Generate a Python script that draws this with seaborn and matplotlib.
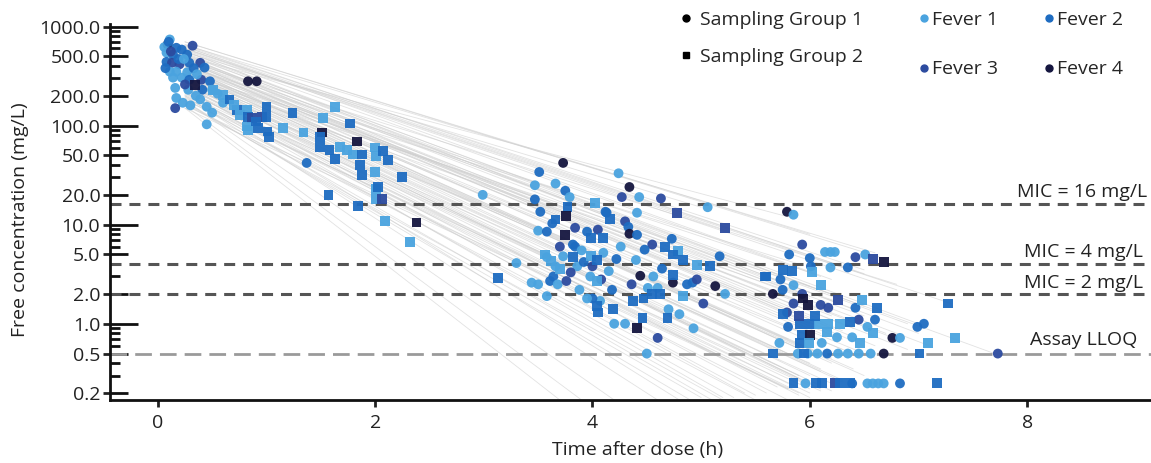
import numpy as np
import pandas as pd
import seaborn as sns
import matplotlib.pyplot as plt
from matplotlib.lines import Line2D
from matplotlib.ticker import FixedLocator, FixedFormatter, NullFormatter

sns.set_style('white')
plt.rcParams['font.family'] = ['Open Sans', 'DejaVu Sans']

# ---- data ----
# sampling group 1 (circles): time (h), free conc (mg/L), fever episode
g1_time = [0.09, 0.11, 0.32, 0.17, 0.22, 0.08, 0.14, 0.27, 0.08, 0.13, 0.20, 0.29, 0.39, 0.43, 0.11, 0.17,
           0.27, 0.14, 0.22, 0.29, 0.40, 0.48, 0.16, 0.28, 0.41, 0.50, 0.17, 0.23, 0.16, 0.39, 0.45, 0.50,
           0.45, 0.83, 0.91, 1.37, 0.06, 0.10, 0.12, 0.19, 0.24, 0.33, 0.36, 0.07, 0.25, 0.35, 0.55, 0.60,
           0.30,
           2.99, 3.73, 3.51, 3.47, 3.66, 3.75, 3.79, 3.47, 3.52, 3.63, 3.50, 3.58, 3.84, 3.70, 3.82, 3.58,
           3.73, 3.30, 3.66, 3.86, 3.44, 3.50, 3.61, 3.64, 3.68, 3.76, 3.58, 4.07, 4.00, 3.95, 4.05, 4.13,
           3.84, 4.00, 3.98, 3.95, 4.24, 4.34, 4.27, 4.43, 4.63, 5.06, 4.41, 4.12, 4.30, 4.33, 4.34, 4.41,
           4.55, 4.73, 5.17, 4.64, 4.56, 4.44, 4.36, 4.51, 4.60, 4.74, 4.87, 4.92, 4.96, 5.13, 5.22, 5.02,
           4.70, 4.80, 4.20, 4.30, 4.93, 4.60, 4.50, 3.90, 3.92, 4.10, 4.15, 4.18, 4.08, 4.22, 3.88, 4.26,
           3.80, 4.40, 4.48,
           5.79, 5.85, 5.93, 5.81, 6.00, 6.14, 6.19, 6.23, 6.42, 6.51, 6.35, 6.19, 6.01, 5.73, 5.85, 5.66,
           5.75, 5.93, 5.85, 6.10, 6.17, 6.42, 5.79, 6.45, 6.53, 6.60, 6.99, 7.05, 5.80, 6.25, 6.39, 6.76,
           6.83, 5.72, 6.11, 5.89, 5.98, 6.07, 6.16, 6.26, 6.35, 6.45, 6.56, 6.68, 7.73,
           5.96, 6.39, 6.53, 6.58, 6.63, 6.68, 6.83]
g1_conc = [658, 740, 640, 610, 585, 545, 520, 520, 440, 430, 415, 430, 430, 385, 350, 350,
           345, 305, 305, 290, 290, 280, 240, 230, 230, 230, 190, 170, 150, 184, 155, 135,
           103, 280, 280, 42, 620, 700, 560, 470, 470, 380, 330, 380, 260, 200, 210, 170,
           160,
           20, 42, 34, 25, 26, 22, 19, 18, 13.5, 10.3, 8.7, 8.5, 9.3, 6.0, 6.3, 4.7,
           4.8, 4.1, 3.8, 3.8, 2.6, 2.5, 2.7, 3.0, 2.5, 2.7, 1.9, 1.7, 1.8, 8.5, 8.9, 13.2,
           6.0, 3.8, 3.0, 1.8, 33, 24, 19, 19, 18.4, 15, 13.2, 13.5, 10.8, 9.5, 8.1, 7.9,
           6.3, 7.2, 4.8, 3.6, 3.0, 3.05, 2.5, 2.3, 2.3, 2.6, 2.5, 2.6, 2.8, 2.4, 2.0, 1.6,
           1.4, 1.25, 1.0, 1.0, 0.9, 0.72, 0.5, 5.5, 4.2, 5.2, 3.4, 2.2, 2.8, 4.5, 2.2, 6.0,
           3.3, 4.4, 5.6,
           13.5, 12.6, 6.3, 5.0, 4.6, 5.3, 5.3, 5.3, 4.7, 5.0, 3.7, 3.7, 3.8, 2.8, 2.45, 2.0,
           2.2, 2.0, 1.6, 1.55, 1.45, 1.45, 1.3, 1.1, 0.93, 1.1, 0.93, 1.0, 0.93, 0.73, 0.73, 0.72,
           0.72, 0.64, 0.64, 0.5, 0.5, 0.5, 0.5, 0.5, 0.5, 0.5, 0.5, 0.5, 0.5,
           0.25, 0.25, 0.25, 0.25, 0.25, 0.25, 0.25]
g1_fever = [4, 1, 3, 2, 2, 1, 2, 2, 2, 3, 3, 2, 3, 2, 1, 1,
            1, 1, 1, 2, 3, 2, 1, 1, 2, 1, 1, 1, 3, 1, 1, 1,
            1, 4, 4, 2, 1, 2, 3, 2, 1, 2, 1, 2, 3, 1, 1, 1,
            1,
            1, 4, 2, 1, 1, 2, 1, 2, 2, 2, 1, 2, 3, 3, 2, 1,
            1, 1, 1, 1, 1, 1, 2, 2, 1, 3, 1, 1, 2, 2, 3, 2,
            2, 3, 1, 1, 1, 4, 3, 1, 3, 1, 1, 2, 3, 2, 4, 2,
            3, 2, 2, 2, 1, 4, 3, 1, 1, 4, 2, 2, 3, 4, 1, 3,
            1, 1, 1, 1, 1, 3, 1, 1, 2, 1, 1, 2, 3, 2, 1, 1,
            3, 1, 2,
            4, 1, 3, 2, 2, 1, 1, 1, 3, 1, 2, 1, 2, 2, 1, 4,
            2, 3, 3, 3, 3, 2, 3, 3, 1, 2, 2, 2, 2, 1, 1, 4,
            1, 1, 1, 1, 1, 1, 2, 1, 1, 1, 1, 4, 3,
            1, 2, 1, 1, 1, 1, 2]

# sampling group 2 (squares)
g2_time = [0.34, 0.51, 0.60, 0.66, 0.73, 0.82, 0.76, 0.83, 0.87, 0.96, 1.00, 1.00, 0.82, 0.83, 0.92, 1.01,
           1.02, 1.15, 1.24, 1.34, 1.51, 1.49, 1.63, 1.52, 1.77, 1.83, 1.49, 1.58, 1.68, 1.63, 1.74, 1.80,
           1.88, 1.86, 1.88, 1.57, 1.84, 2.00, 2.01, 2.07, 2.12, 2.00, 2.01, 2.03, 2.01, 2.06, 2.09, 2.25,
           2.38, 2.32, 0.70, 0.90,
           3.13, 3.77, 3.76, 3.66, 3.75, 3.56, 3.82, 4.04, 4.05, 3.99, 4.10, 4.02, 3.99, 4.04, 4.04, 4.16,
           4.78, 5.22, 4.67, 4.79, 4.74, 4.83, 4.96, 5.08, 5.59, 4.74, 4.55, 4.62, 4.83, 4.47, 4.37, 4.69,
           4.46, 4.41, 4.19, 3.62, 3.70,
           6.58, 6.68, 6.02, 5.75, 5.84, 5.60, 6.10, 5.94, 5.98, 6.26, 6.48, 6.62, 7.27, 5.75, 5.91, 6.00,
           6.08, 6.17, 6.28, 6.37, 5.93, 6.00, 6.16, 6.46, 6.58, 7.34, 5.91, 5.99, 7.09, 5.66, 7.01, 5.95,
           5.90, 6.05,
           5.85, 6.06, 6.11, 6.23, 6.28, 6.37, 7.17]
g2_conc = [255, 230, 205, 183, 145, 145, 129, 123, 120, 123, 155, 123, 98, 91, 95, 87,
           76, 95, 135, 85, 85, 77, 155, 120, 105, 69, 61, 57, 61, 46, 57, 51,
           51, 40, 32, 20, 15.3, 60, 49, 55, 45, 34, 23, 24, 18, 18, 10.8, 30,
           10.5, 6.7, 160, 110,
           2.9, 15.2, 12.3, 11.3, 7.8, 5.0, 4.7, 1.5, 1.3, 7.4, 7.4, 16.7, 4.8, 4.4, 2.7, 11.5,
           13.2, 9.3, 6.0, 5.4, 5.0, 4.4, 3.9, 3.8, 3.0, 3.1, 2.0, 2.0, 1.9, 1.8, 1.7, 1.15,
           1.15, 0.9, 1.4, 4.3, 3.6,
           4.5, 4.2, 3.3, 3.5, 3.4, 3.0, 2.45, 1.8, 1.55, 1.75, 1.75, 1.45, 1.6, 1.25, 1.0, 1.0,
           1.0, 1.0, 1.0, 1.05, 0.77, 0.77, 0.82, 0.64, 0.81, 0.72, 0.64, 0.64, 0.64, 0.5, 0.5, 0.5,
           1.2, 1.2,
           0.25, 0.25, 0.25, 0.25, 0.25, 0.25, 0.25]
g2_fever = [4, 1, 1, 2, 2, 1, 1, 2, 3, 3, 2, 2, 1, 1, 2, 2,
            2, 1, 2, 1, 4, 2, 1, 1, 2, 4, 2, 2, 1, 2, 1, 1,
            2, 2, 2, 2, 2, 1, 1, 2, 2, 1, 1, 2, 1, 3, 1, 2,
            4, 1, 1, 2,
            2, 2, 4, 2, 4, 1, 2, 2, 2, 2, 2, 1, 1, 2, 1, 2,
            3, 3, 2, 1, 2, 2, 1, 2, 2, 2, 2, 2, 1, 2, 2, 2,
            2, 4, 2, 1, 1,
            3, 4, 1, 2, 2, 2, 1, 4, 4, 3, 1, 2, 2, 2, 2, 2,
            1, 1, 1, 2, 2, 4, 1, 1, 1, 1, 2, 1, 1, 2, 2, 2,
            3, 2,
            2, 2, 2, 3, 2, 2, 2]

# individual predicted profiles: conc at first time, last time, conc at last time
line_t0 = 0.25
line_c0 = [700, 650, 620, 600, 580, 560, 540, 520, 500, 480, 470, 450, 440, 420, 410, 400,
           390, 380, 370, 360, 350, 340, 330, 320, 310, 300, 290, 280, 270, 260, 250, 240,
           230, 220, 210, 200, 190, 180, 160, 150, 600, 550, 500, 450, 420, 380, 350, 320,
           300, 280, 700, 640, 450, 400, 330, 200, 180, 160, 150, 170, 260, 240, 220,
           660, 630, 590, 570, 530, 510, 490, 460, 430, 410, 395, 375, 355, 335, 315, 305,
           295, 285, 275, 265, 255, 245, 235, 225, 215, 205, 195, 185, 175, 165, 500, 450,
           400, 350, 300]
line_t1 = [6.7, 6.6, 6.3, 7.3, 6.1, 6.0, 7.0, 6.5, 5.9, 6.2, 7.7, 6.0, 6.4, 5.8, 6.8, 6.1,
           5.9, 6.3, 6.0, 6.6, 5.8, 6.2, 6.1, 6.5, 6.0, 5.9, 6.3, 6.0, 5.8, 6.1, 6.4, 6.0,
           5.9, 6.2, 6.0, 5.8, 6.0, 6.1, 5.9, 5.8, 5.2, 5.0, 5.8, 6.9, 7.1, 6.7, 6.5, 6.3,
           6.2, 6.0, 6.0, 6.5, 6.8, 6.0, 5.9, 4.6, 4.2, 3.9, 3.7, 5.0, 5.4, 5.2, 4.8,
           6.5, 6.2, 6.8, 6.0, 6.4, 6.1, 7.0, 6.3, 5.9, 6.6, 6.0, 6.2, 5.8, 6.4, 6.1, 5.9,
           6.3, 6.0, 5.7, 6.2, 5.6, 5.9, 5.5, 6.0, 5.3, 5.8, 5.1, 5.5, 4.9, 5.2, 6.5, 6.2,
           6.9, 6.3, 6.1]
line_c1 = [4.5, 5.2, 3.8, 1.6, 3.0, 2.4, 1.0, 1.5, 2.0, 1.2, 0.5, 1.0, 0.9, 1.3, 0.7, 0.8,
           0.6, 0.55, 0.5, 0.45, 0.7, 0.4, 0.35, 0.3, 0.3, 0.28, 0.26, 0.25, 0.25, 0.22, 0.5, 0.4,
           0.3, 0.25, 0.22, 0.22, 0.2, 0.21, 0.2, 0.22, 9, 15, 12, 1.0, 0.6, 0.8, 1.2, 1.6,
           2.0, 1.8, 8, 3.5, 2.5, 3.3, 4.0, 0.17, 0.17, 0.17, 0.17, 0.18, 0.2, 0.18, 0.17,
           3.2, 2.8, 2.2, 1.9, 1.4, 1.1, 0.8, 0.85, 0.75, 0.6, 0.5, 0.45, 0.5, 0.35, 0.33, 0.3,
           0.27, 0.24, 0.23, 0.21, 0.2, 0.19, 0.19, 0.18, 0.18, 0.17, 0.17, 0.17, 0.17, 0.17, 0.6, 0.9,
           0.55, 0.7, 0.5]

fever_labels = ['Fever 1', 'Fever 2', 'Fever 3', 'Fever 4']
fever_colors = ['#4aa3df', '#1e6cc1', '#2c4b9f', '#15163f']
group_labels = ['Sampling Group 1', 'Sampling Group 2']
mic_values = [16, 4, 2]
lloq = 0.5

# ---- tables ----
pts = pd.concat([
    pd.DataFrame({'time': g1_time, 'conc': g1_conc, 'fever': g1_fever, 'group': group_labels[0]}),
    pd.DataFrame({'time': g2_time, 'conc': g2_conc, 'fever': g2_fever, 'group': group_labels[1]}),
], ignore_index=True)
pts['fever'] = pts['fever'].map(lambda k: fever_labels[k - 1])

rows = []
for i, (c0, t1, c1) in enumerate(zip(line_c0, line_t1, line_c1)):
    rows.append((i, line_t0, c0))
    rows.append((i, t1, c1))
prof = pd.DataFrame(rows, columns=['id', 'time', 'conc'])

# ---- plot ----
fig, ax = plt.subplots(figsize=(11.51, 4.63), dpi=100)
fig.subplots_adjust(left=110 / 1151, right=1.0, top=1 - 24 / 463, bottom=1 - 400 / 463)

sns.lineplot(data=prof, x='time', y='conc', units='id', estimator=None, color='#cfcfcf',
             lw=0.6, alpha=0.6, ax=ax, zorder=1, legend=False)

for m in mic_values:
    ax.axhline(m, color='#555555', lw=2.2, ls=(0, (3.6, 2.6)), zorder=2)
ax.axhline(lloq, color='#9a9a9a', lw=2.0, ls=(0, (6, 2.9)), zorder=2)

sns.scatterplot(data=pts, x='time', y='conc', hue='fever', hue_order=fever_labels,
                palette=fever_colors, style='group',
                markers={group_labels[0]: 'o', group_labels[1]: 's'},
                s=50, linewidth=0, alpha=0.95, legend=False, ax=ax, zorder=3)

ax.set_yscale('log')
ax.set_ylim(0.17, 1060)
ax.set_xlim(-0.44, 9.14)

ymajor = [0.2, 0.5, 1, 2, 5, 10, 20, 50, 100, 200, 500, 1000]
decades = [1, 10, 100, 1000]
yminor = sorted(set(ymajor + [0.3, 0.4, 0.6, 0.7, 0.8, 0.9, 3, 4, 6, 7, 8, 9,
                              30, 40, 60, 70, 80, 90, 300, 400, 600, 700, 800, 900]))
ax.yaxis.set_major_locator(FixedLocator(ymajor))
ax.yaxis.set_major_formatter(FixedFormatter([f'{v:.1f}' for v in ymajor]))
ax.yaxis.set_minor_locator(FixedLocator(yminor))
ax.yaxis.set_minor_formatter(NullFormatter())
ax.yaxis.remove_overlapping_locs = False
ax.tick_params(axis='y', which='major', left=True, direction='out', length=5, width=2,
               labelsize=14, pad=2, colors='#222222')
ax.tick_params(axis='y', which='minor', left=True, direction='in', length=7, width=2, color='#111111')
for tick, loc in zip(ax.yaxis.get_minor_ticks(len(yminor)), yminor):
    if any(np.isclose(loc, d) for d in decades):
        tick.tick1line.set_markersize(20)
    elif any(np.isclose(loc, d) for d in ymajor):
        tick.tick1line.set_markersize(13)

ax.set_xticks([0, 2, 4, 6, 8])
ax.tick_params(axis='x', bottom=True, direction='out', length=5, width=2, labelsize=14, pad=5,
               colors='#222222')

for side in ['top', 'right']:
    ax.spines[side].set_visible(False)
for side in ['left', 'bottom']:
    ax.spines[side].set_linewidth(2)
    ax.spines[side].set_color('#111111')

ax.set_xlabel('Time after dose (h)', fontsize=14, color='#222222')
ax.set_ylabel('Free concentration (mg/L)', fontsize=14, color='#222222')
ax.xaxis.set_label_coords(0.507, -0.108)
ax.yaxis.set_label_coords(-0.078, 0.48)

tr = ax.get_yaxis_transform()
ax.text(0.996, 17.3, 'MIC = 16 mg/L', transform=tr, ha='right', va='bottom', fontsize=14, color='#222222')
ax.text(0.992, 4.3, 'MIC = 4 mg/L', transform=tr, ha='right', va='bottom', fontsize=14, color='#222222')
ax.text(0.992, 2.08, 'MIC = 2 mg/L', transform=tr, ha='right', va='bottom', fontsize=14, color='#222222')
ax.text(0.987, 0.55, 'Assay LLOQ', transform=tr, ha='right', va='bottom', fontsize=14, color='#222222')

grp_handles = [Line2D([], [], ls='none', marker='o', color='black', markersize=5),
               Line2D([], [], ls='none', marker='s', color='black', markersize=5)]
fig.legend(grp_handles, group_labels, loc='upper left', bbox_to_anchor=(667 / 1151, 1.005),
           frameon=False, fontsize=14, handlelength=0.6, handletextpad=0.4,
           labelspacing=0.95, borderaxespad=0.3)
# row-wise order: Fever 1, Fever 2 on top; Fever 3, Fever 4 below
fev_order = [0, 2, 1, 3]
fev_handles = [Line2D([], [], ls='none', marker='o', color=fever_colors[k], markersize=5) for k in fev_order]
fig.legend(fev_handles, [fever_labels[k] for k in fev_order], loc='upper left',
           bbox_to_anchor=(905 / 1151, 1.005), frameon=False, fontsize=14, ncol=2,
           handlelength=0.6, handletextpad=0.1, labelspacing=1.6, columnspacing=2.3,
           borderaxespad=0.3)

fig.savefig('out.png', dpi=100)
